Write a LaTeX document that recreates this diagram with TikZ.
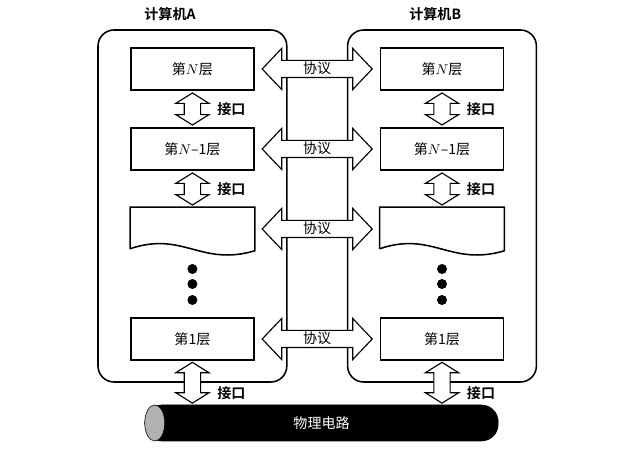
\documentclass[tikz,border=0pt]{standalone}
\usepackage{fontspec}
\setmainfont{Liberation Serif}
\newfontfamily\cjk{Noto Sans CJK SC}[BoldFont={Noto Sans CJK SC Bold}]
\usetikzlibrary{shapes.arrows, positioning, calc}

\begin{document}
\begin{tikzpicture}[
  pc/.style={draw, line width=1.1pt, rounded corners=0.4cm, minimum width=4.72cm, minimum height=8.8cm},
  lay/.style={draw, line width=1.1pt, rectangle, minimum width=3.08cm, minimum height=1.05cm,
              font=\cjk, inner sep=0pt},
  proto/.style={draw, thick, fill=white, double arrow, minimum height=2.75cm, minimum width=1.0cm,
                double arrow head extend=0.3cm, double arrow tip angle=93,
                inner xsep=0pt, inner ysep=0.2cm},
  ifc/.style={draw, thick, fill=white, double arrow, rotate=90, minimum height=0.8cm,
              minimum width=0.8cm, double arrow head extend=0.21cm, double arrow tip angle=116,
              inner xsep=0pt, inner ysep=0.19cm},
  lbl/.style={font=\cjk\bfseries},
  dot/.style={circle, fill, inner sep=0pt, minimum size=0.25cm}
]
\useasboundingbox (0,0) rectangle (15.85,11.35);
\node[pc] (pcA) at (4.81,6.2) {};
\node[pc] (pcB) at (11.05,6.2) {};
\node[lbl] (tA) at (4.25,11.0) {计算机A};
\node[lbl] (tB) at (10.88,11.0) {计算机B};

\node[lay] (a1) at (4.81,9.625) {第$N$层};
\node[lay] (a2) at (4.81,7.625) {第$N$–1层};
\node[lay, draw=none] (a3) at (4.81,5.625) {};
\node[lay] (a4) at (4.81,2.875) {第1层};
\node[lay] (b1) at (11.05,9.625) {第$N$层};
\node[lay] (b2) at (11.05,7.625) {第$N$–1层};
\node[lay, draw=none] (b3) at (11.05,5.625) {};
\node[lay] (b4) at (11.05,2.875) {第1层};
\foreach \s in {a3, b3}
  \draw[line width=1.1pt] ([yshift=0.05cm]\s.south west) -- (\s.north west) -- (\s.north east)
    -- (\s.south east) .. controls +(-1.35,-0.4) and +(1.325,0.45) .. ([yshift=0.05cm]\s.south west);
\foreach \y [count=\k] in {4.625, 4.25, 3.85} {
  \node[dot] (da\k) at (4.81,\y) {};
  \node[dot] (db\k) at (11.05,\y) {};
}

\foreach \i in {1,...,4} {
  \node[proto] (p\i) at ($(a\i.east)!0.5!(b\i.west)$) {};
  \node[font=\cjk, inner sep=0pt] (q\i) at ([yshift=0.02cm]p\i) {协议};
}

\foreach \s in {a, b} {
  \node[ifc] (i\s1) at ($(\s1.south)!0.5!(\s2.north)$) {};
  \node[ifc] (i\s2) at ($(\s2.south)!0.5!(\s3.north)$) {};
  \node[lbl, right=0.5cm] (k\s1) at (i\s1) {接口};
  \node[lbl, right=0.5cm] (k\s2) at (i\s2) {接口};
}

\node[draw, fill=black, text=white, rounded corners=0.42cm, minimum width=8.83cm, minimum height=0.9cm,
      font=\cjk] (cable) at (8.04,0.775) {物理电路};
\draw[fill=gray!60] ([xshift=0.25cm]cable.west) ellipse [x radius=0.25cm, y radius=0.45cm];

\node[ifc, minimum height=1.02cm] (ia3) at ($(a4.south)!0.5!(a4.south |- cable.north)$) {};
\node[ifc, minimum height=1.02cm] (ib3) at ($(b4.south)!0.5!(b4.south |- cable.north)$) {};
\node[lbl, right=0.5cm] (ka3) at ([yshift=-0.25cm]ia3) {接口};
\node[lbl, right=0.5cm] (kb3) at ([yshift=-0.25cm]ib3) {接口};
\end{tikzpicture}
\end{document}
